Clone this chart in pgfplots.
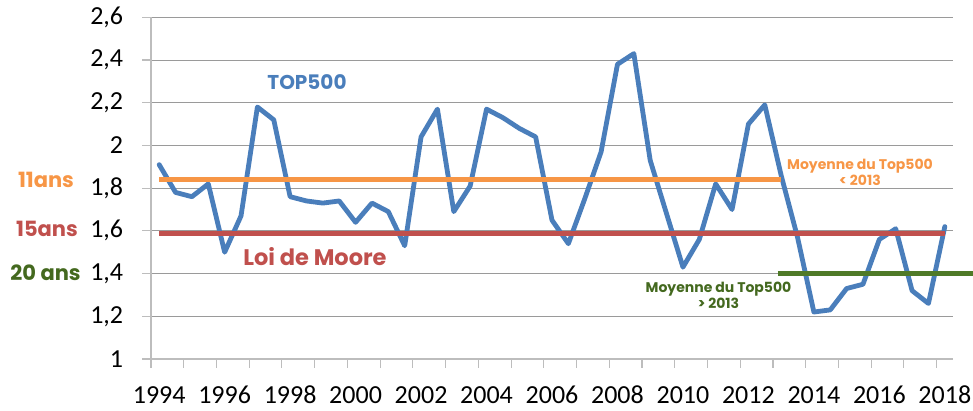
\documentclass[border=0pt]{standalone}
\usepackage{fontspec}
\setmainfont{Carlito}
\newfontfamily\gothic{Poppins}
\usepackage{pgfplots}
\pgfplotsset{compat=1.18}
\definecolor{topblue}{HTML}{4A7EBB}
\definecolor{avgorange}{HTML}{F79646}
\definecolor{mooreRed}{HTML}{C0504D}
\definecolor{avggreen}{HTML}{4F7A28}
\definecolor{txtgreen}{HTML}{44691F}
\definecolor{gridgray}{HTML}{9A9A9A}
\definecolor{axisgray}{HTML}{BDBDBD}

\begin{document}
\begin{tikzpicture}
\useasboundingbox (0,0) rectangle (973pt,410pt);
\begin{axis}[
  at={(151pt,51pt)}, anchor=south west,
  scale only axis, width=802pt, height=341.7pt,
  xmin=1993.75, xmax=2018.25, ymin=1, ymax=2.6,
  axis x line*=bottom, axis y line*=left,
  axis line style={draw=axisgray, line width=1.3pt, -},
  ytick={1,1.2,1.4,1.6,1.8,2,2.2,2.4,2.6},
  ymajorgrids, major grid style={draw=gridgray, line width=0.9pt},
  xtick={1993.75,1994.75,1995.75,1996.75,1997.75,1998.75,1999.75,2000.75,2001.75,2002.75,2003.75,2004.75,2005.75,2006.75,2007.75,2008.75,2009.75,2010.75,2011.75,2012.75,2013.75,2014.75,2015.75,2016.75,2017.75},
  xticklabels={},
  extra x ticks={1994,1996,1998,2000,2002,2004,2006,2008,2010,2012,2014,2016,2018},
  extra x tick labels={1994,1996,1998,2000,2002,2004,2006,2008,2010,2012,2014,2016,2018},
  extra x tick style={major tick length=0pt},
  tick align=outside, major tick length=8.7pt,
  tick style={draw=axisgray, line width=1.1pt},
  /pgf/number format/use comma,
  /pgf/number format/assume math mode=true,
  x tick label style={font=\fontsize{26}{26}\selectfont, inner sep=0pt, anchor=north, yshift=-27pt},
  y tick label style={font=\fontsize{26}{26}\selectfont, inner sep=0pt, anchor=east, xshift=-19pt},
  clip=false,
]
% TOP500, two values per year (June / November)
\addplot[topblue, line width=4.8pt, line join=round, line cap=round, mark=none] coordinates {
  (1994.0,1.91)(1994.5,1.78)(1995.0,1.76)(1995.5,1.82)(1996.0,1.50)(1996.5,1.67)
  (1997.0,2.18)(1997.5,2.12)(1998.0,1.76)(1998.5,1.74)(1999.0,1.73)(1999.5,1.74)
  (2000.0,1.64)(2000.5,1.73)(2001.0,1.69)(2001.5,1.53)(2002.0,2.04)(2002.5,2.17)
  (2003.0,1.69)(2003.5,1.81)(2004.0,2.17)(2004.5,2.13)(2005.0,2.08)(2005.5,2.04)
  (2006.0,1.65)(2006.5,1.54)(2007.0,1.75)(2007.5,1.97)(2008.0,2.38)(2008.5,2.43)
  (2009.0,1.93)(2009.5,1.68)(2010.0,1.43)(2010.5,1.56)(2011.0,1.82)(2011.5,1.70)
  (2012.0,2.10)(2012.5,2.19)(2013.0,1.86)(2013.5,1.57)(2014.0,1.22)(2014.5,1.23)
  (2015.0,1.33)(2015.5,1.35)(2016.0,1.56)(2016.5,1.61)(2017.0,1.32)(2017.5,1.26)
  (2018.0,1.62)};
% averages
\addplot[avgorange, line width=5pt, mark=none] coordinates {(1994.0,1.84)(2013.0,1.84)};
\addplot[mooreRed, line width=5pt, mark=none] coordinates {(1994.0,1.59)(2018.0,1.59)};
\addplot[avggreen, line width=5pt, mark=none] coordinates {(2012.9,1.40)(2018.87,1.40)};
\end{axis}
% annotations
\node[topblue, font=\gothic\bfseries\fontsize{20}{20}\selectfont] at (307pt,328pt) {TOP500};
\node[mooreRed, font=\gothic\bfseries\fontsize{22.5}{22.5}\selectfont] at (315pt,153.5pt) {Loi de Moore};
\node[avgorange, font=\gothic\bfseries\fontsize{14}{16}\selectfont, align=center] at (860pt,238pt) {Moyenne du Top500\\< 2013};
\node[txtgreen, font=\gothic\bfseries\fontsize{14}{16}\selectfont, align=center] at (718.5pt,114.5pt) {Moyenne du Top500\\> 2013};
\node[avgorange, font=\gothic\bfseries\fontsize{21}{21}\selectfont] at (46pt,230pt) {11ans};
\node[mooreRed, font=\gothic\bfseries\fontsize{21}{21}\selectfont] at (47pt,181pt) {15ans};
\node[txtgreen, font=\gothic\bfseries\fontsize{21}{21}\selectfont] at (45.5pt,137pt) {20 ans};
\end{tikzpicture}
\end{document}
